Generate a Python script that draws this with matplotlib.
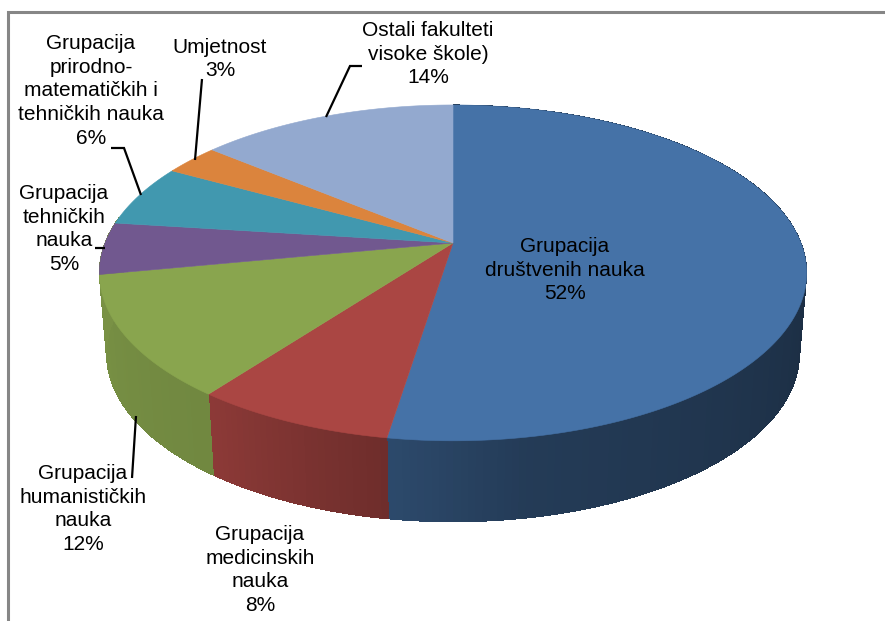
import numpy as np
import matplotlib
matplotlib.use("Agg")
import matplotlib.pyplot as plt

labels = ["Grupacija\ndruštvenih nauka\n52%",
          "Grupacija\nmedicinskih\nnauka\n8%",
          "Grupacija\nhumanističkih\nnauka\n12%",
          "Grupacija\ntehničkih\nnauka\n5%",
          "Grupacija\nprirodno-\nmatematičkih i\ntehničkih nauka\n6%",
          "Umjetnost\n3%",
          "Ostali fakulteti\nvisoke škole)\n14%"]
values = [52.5, 7.8, 11.7, 5.0, 6.0, 3.0, 14.0]
colors = ["#4572A7", "#AA4643", "#89A54E", "#71588F", "#4198AF", "#DB843D", "#93A9CF"]
label_pos = [(565, 270), (260, 570), (83, 509), (64, 229), (91, 91), (220, 59), (428, 54)]
leaders = [[(136, 416), (132, 478)],
           [(95, 248), (105, 248)],
           [(111, 148), (124, 148), (141, 195)],
           [(202, 79), (195, 160)],
           [(362, 66), (350, 66), (326, 117)]]

K = 0.178
B = 162.6
CX = 453


def project(theta, a, y0):
    X, Y = np.sin(theta), np.cos(theta)
    w = 1 + K * Y
    return CX + a * X / w, y0 - B * Y / w


def shade_factor(deg):
    return np.interp(deg, [0, 100, 170, 188, 216, 262, 360],
                     [.40, .40, .52, .64, .82, .88, .88])


fig = plt.figure(figsize=(8.85, 6.21), dpi=100)
ax = fig.add_axes([0, 0, 1, 1])
ax.set_xlim(0, 885)
ax.set_ylim(621, 0)
ax.axis("off")

# frame
ax.plot([8, 8, 885], [621, 11.5, 11.5], color="#868686", lw=2.2, solid_joinstyle="miter", zorder=1)

fr = np.cumsum([0] + values) / sum(values) * 2 * np.pi
TOP = (348, 243)
LOW = (341, 324)

# side wall: only the three front slices are visible; the third wraps round the left edge
for i in range(3):
    rgb = np.array(matplotlib.colors.to_rgb(colors[i]))
    end = fr[i + 1] + (0.35 if i == 2 else 0.0)
    n = max(2, int((end - fr[i]) / np.radians(1.0)))
    edges = np.linspace(fr[i], end, n + 1)
    for t0, t1 in zip(edges[:-1], edges[1:]):
        tt = np.linspace(t0, t1, 3)
        xu, yu = project(tt, *TOP)
        xl, yl = project(tt, *LOW)
        col = rgb * shade_factor(np.degrees((t0 + t1) / 2))
        ax.fill(np.r_[xu, xl[::-1]], np.r_[yu, yl[::-1]], color=col, lw=0, antialiased=False, zorder=2)

# top faces
for i, c in enumerate(colors):
    tt = np.linspace(fr[i], fr[i + 1], 200)
    x, y = project(tt, *TOP)
    ax.fill(np.r_[CX, x], np.r_[TOP[1], y], color=c, lw=0.4, zorder=3)

for pts in leaders:
    xs, ys = zip(*pts)
    ax.plot(xs, ys, color="black", lw=1.6, zorder=4, solid_capstyle="butt", solid_joinstyle="miter")

for text, (x, y) in zip(labels, label_pos):
    ax.text(x, y, text, ha="center", va="center", fontsize=15, color="black",
            family="Liberation Sans", linespacing=1.31, zorder=5)

fig.savefig("out.png", dpi=100)
